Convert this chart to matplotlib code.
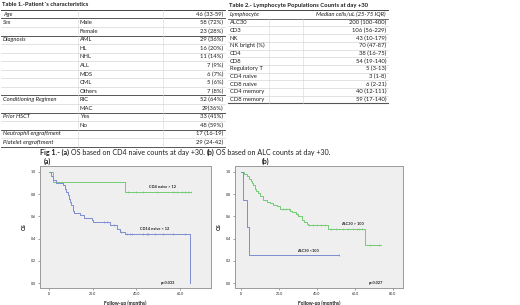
import numpy as np
import matplotlib
matplotlib.use('Agg')
import matplotlib.pyplot as plt

plt.rcParams['font.family'] = ['Lato', 'DejaVu Sans']

# Table 1 - patient characteristics
t1_group = ['Age', 'Sex', '', 'Diagnosis', '', '', '', '', '', '',
            'Conditioning Regimen', '', 'Prior HSCT', '',
            'Neutrophil engraftment', 'Platelet engraftment']
t1_sub = ['', 'Male', 'Female', 'AML', 'HL', 'NHL', 'ALL', 'MDS', 'CML',
          'Others', 'RIC', 'MAC', 'Yes', 'No', '', '']
t1_val = ['46 (33-59)', '58 (72%)', '23 (28%)', '29 (36%)', '16 (20%)',
          '11 (14%)', '7 (9%)', '6 (7%)', '5 (6%)', '7 (8%)', '52 (64%)',
          '29(36%)', '33 (41%)', '48 (59%)', '17 (16-19)', '29 (24-42)']

# Table 2 - lymphocyte counts at day +30
t2_name = ['ALC30', 'CD3', 'NK', 'NK bright (%)', 'CD4', 'CD8', 'Regulatory T',
           'CD4 naive', 'CD8 naive', 'CD4 memory', 'CD8 memory']
t2_val = ['200 (100-400)', '106 (56-229)', '43 (10-179)', '70 (47-87)',
          '38 (16-75)', '54 (19-140)', '5 (3-13)', '3 (1-8)', '6 (2-21)',
          '40 (12-111)', '59 (17-140)']

# caption pieces (text, bold)
caption = [('Fig 1.- (a)', True), (' OS based on CD4 naive counts at day +30. ', False),
           ('(b)', True), (' OS based on ALC counts at day +30.', False)]

# Fig 1a - OS by CD4 naive counts
a_hi_t = [0, 2, 35, 65]
a_hi_s = [1.0, 0.91, 0.82, 0.82]
a_hi_cens = [36, 40, 43, 49.5, 57, 58.7, 61, 62.4, 63.8, 65]
a_lo_t = [0, 1, 2, 3, 6.5, 7.3, 8, 8.5, 9, 9.5, 10.2, 10.8, 11.1, 11.6,
          14.2, 16, 19.5, 20.3, 28, 31, 32.6, 34.9, 64.7]
a_lo_s = [1.0, 0.96, 0.93, 0.90, 0.88, 0.85, 0.82, 0.79, 0.76, 0.73, 0.70,
          0.67, 0.65, 0.63, 0.61, 0.59, 0.57, 0.55, 0.52, 0.49, 0.46, 0.44, 0.0]
a_lo_cens = [25, 26.4, 30, 33, 35.8, 37.2, 38, 43, 44.9, 45.4, 48.6, 52.3,
             56.9, 62.4]

# Fig 1b - OS by ALC counts
b_hi_t = [0, 1.5, 3, 4, 5, 6, 6.5, 7.4, 8, 9, 10, 11.7, 13.5, 15, 17, 19,
          20.5, 25.8, 27, 29, 30.2, 31.9, 33, 34.6, 35.4, 46, 65.3, 73.5]
b_hi_s = [1.0, 0.98, 0.96, 0.94, 0.92, 0.90, 0.88, 0.85, 0.83, 0.81, 0.78,
          0.75, 0.73, 0.72, 0.70, 0.69, 0.67, 0.65, 0.64, 0.62, 0.60, 0.57,
          0.55, 0.53, 0.52, 0.49, 0.34, 0.34]
b_hi_cens = [22, 23.5, 25, 29.5, 36, 38, 40, 42, 44, 47.5, 50, 53.5, 56.5,
             59, 61, 62, 63.5, 68, 72.5]
b_lo_t = [0, 1, 3, 4, 51.5]
b_lo_s = [1.0, 0.75, 0.5, 0.25, 0.25]
b_lo_cens = [51.5]

W, H = 520, 305
GREEN = '#74cc74'
BLUE = '#7d8cd2'
TXT = '#1e1e1e'

fig = plt.figure(figsize=(W / 100, H / 100), dpi=100)
bg = fig.add_axes([0, 0, 1, 1])
bg.set_xlim(0, W)
bg.set_ylim(H, 0)
bg.axis('off')

fs = 4.2

# ---- Table 1
bg.text(2, 5, "Table 1.-Patient\u00b4s characteristics", fontsize=fs,
        fontweight='bold', va='center', color=TXT)
y0, dy = 14.2, 8.55
bg.plot([1, 225], [9.8, 9.8], color='#444444', lw=0.7)
dark1 = {0, 2, 9, 11, 13, 15}
for i in range(len(t1_val)):
    y = y0 + dy * i
    bg.text(3, y, t1_group[i], fontsize=fs, style='italic', va='center',
            color=TXT)
    bg.text(80, y, t1_sub[i], fontsize=fs, va='center', color=TXT)
    bg.text(223, y, t1_val[i], fontsize=fs, va='center', ha='right',
            color=TXT)
    yl = y + dy / 2
    if i in dark1:
        bg.plot([1, 225], [yl, yl], color='#555555', lw=0.7)
    else:
        bg.plot([1, 225], [yl, yl], color='#cccccc', lw=0.4)
bg.plot([78, 78], [9.8, y0 + dy * 15.5], color='#d4d4d4', lw=0.4)
bg.plot([163, 163], [9.8, y0 + dy * 15.5], color='#d4d4d4', lw=0.4)

# ---- Table 2
bg.text(229, 5, 'Table 2.- Lymphocyte Populations Counts at day +30',
        fontsize=fs, fontweight='bold', va='center', color=TXT)
bg.plot([228, 388], [9.5, 9.5], color='#444444', lw=0.7)
bg.text(230, 14.5, 'Lymphocyte', fontsize=fs, style='italic', va='center',
        color=TXT)
bg.text(386, 14.5, 'Median cells/uL (25-75 IQR)', fontsize=fs,
        style='italic', va='center', ha='right', color=TXT)
bg.plot([228, 388], [18.6, 18.6], color='#555555', lw=0.6)
r0, dr = 22.6, 7.7
for i in range(len(t2_val)):
    y = r0 + dr * i
    bg.text(230, y, t2_name[i], fontsize=fs, va='center', color=TXT)
    bg.text(386, y, t2_val[i], fontsize=fs, va='center', ha='right',
            color=TXT)
    yl = y + dr / 2
    if i == len(t2_val) - 1:
        bg.plot([228, 388], [yl, yl], color='#555555', lw=0.8)
    else:
        bg.plot([228, 388], [yl, yl], color='#cccccc', lw=0.4)
bg.plot([269, 269], [18.6, r0 + dr * 10.5], color='#d4d4d4', lw=0.4)
bg.plot([303, 303], [18.6, r0 + dr * 10.5], color='#d4d4d4', lw=0.4)

# ---- Caption, pieces chained one after another
renderer = fig.canvas.get_renderer()
cx = 40
for piece, bold in caption:
    t = bg.text(cx, 152.5, piece, fontsize=5.1, va='center', color=TXT,
                fontweight='bold' if bold else 'normal')
    cx += t.get_window_extent(renderer).width
bg.text(44, 161, '(a)', fontsize=5.0, fontweight='bold', va='center',
        color=TXT)
bg.text(262, 161, '(b)', fontsize=5.0, fontweight='bold', va='center',
        color=TXT)


def surv_at(t, s, x):
    idx = np.searchsorted(t, x, side='right') - 1
    return np.array(s)[idx]


def km_axes(left, right, xlim, xticks):
    ax = fig.add_axes([left / W, 1 - 288 / H, (right - left) / W, 122 / H])
    ax.set_facecolor('#efefef')
    for sp in ax.spines.values():
        sp.set_color('#9a9a9a')
        sp.set_linewidth(0.7)
    ax.set_xlim(*xlim)
    ax.set_ylim(-0.045, 1.054)
    ax.set_xticks(xticks)
    ax.set_xticklabels(['.0' if v == 0 else '%.1f' % v for v in xticks])
    ax.set_yticks([0, 0.2, 0.4, 0.6, 0.8, 1.0])
    ax.set_yticklabels(['0.0', '0.2', '0.4', '0.6', '0.8', '1.0'])
    ax.tick_params(labelsize=2.6, length=1.5, width=0.4, pad=1.5,
                   colors='#555555', labelcolor=TXT)
    ax.set_ylabel('OS', fontsize=3.6, fontweight='bold', labelpad=3,
                  color=TXT)
    ax.set_xlabel('Follow-up (months)', fontsize=3.6, fontweight='bold',
                  labelpad=3, color=TXT)
    return ax


def km_curve(ax, t, s, cens, color):
    ax.step(t, s, where='post', color=color, lw=0.7)
    ax.plot(cens, surv_at(t, s, cens), ls='none', marker='|', ms=1.6,
            mew=0.5, color=color)


ax1 = km_axes(40, 211, (-4.1, 74.2), [0, 20, 40, 60])
km_curve(ax1, a_hi_t, a_hi_s, a_hi_cens, GREEN)
km_curve(ax1, a_lo_t, a_lo_s, a_lo_cens, BLUE)
ax1.text(52.2, 0.865, 'CD4 naive > 12', fontsize=2.8, fontweight='bold',
         ha='center', va='center', color=TXT)
ax1.text(48.6, 0.485, 'CD14 naive < 12', fontsize=2.8, fontweight='bold',
         ha='center', va='center', color=TXT)
ax1.text(54.5, 0.0, 'p=0.033', fontsize=2.8, fontweight='bold',
         ha='center', va='center', color=TXT)

ax2 = km_axes(235, 403, (-3.2, 85.3), [0, 20, 40, 60, 80])
km_curve(ax2, b_hi_t, b_hi_s, b_hi_cens, GREEN)
km_curve(ax2, b_lo_t, b_lo_s, b_lo_cens, BLUE)
ax2.text(58.4, 0.53, 'ALC30 > 100', fontsize=2.8, fontweight='bold',
         ha='center', va='center', color=TXT)
ax2.text(35.3, 0.29, 'ALC30 <100', fontsize=2.8, fontweight='bold',
         ha='center', va='center', color=TXT)
ax2.text(71, 0.0, 'p=0.027', fontsize=2.8, fontweight='bold',
         ha='center', va='center', color=TXT)

fig.savefig('out.png', dpi=100)
